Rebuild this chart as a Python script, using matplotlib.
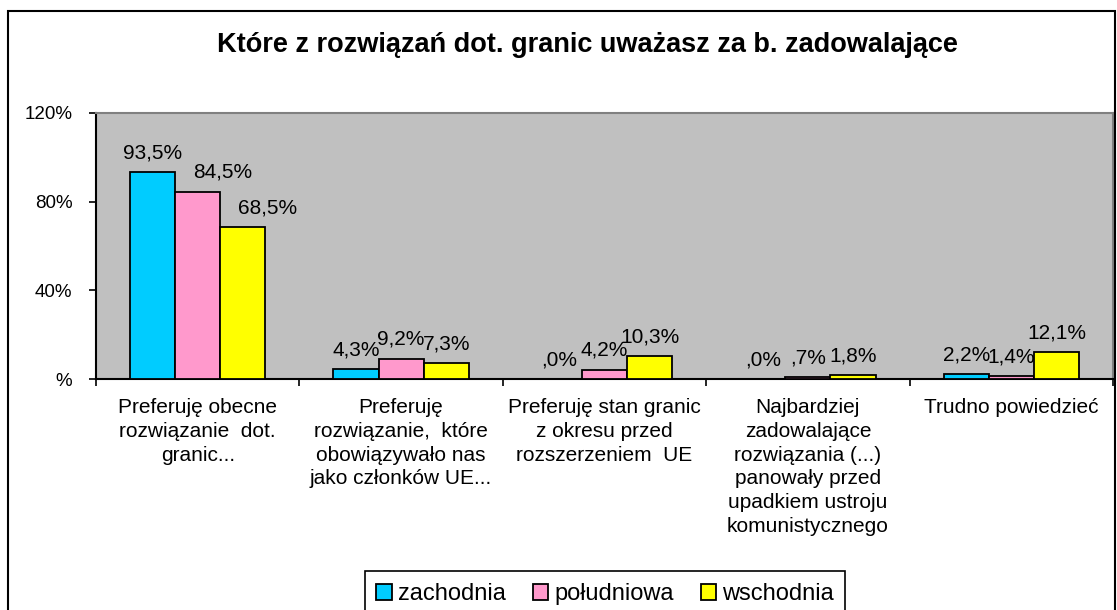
import numpy as np
import matplotlib
matplotlib.use("Agg")
import matplotlib.pyplot as plt
from matplotlib.patches import Rectangle

plt.rcParams['font.family'] = ['Liberation Sans', 'DejaVu Sans']

title = "Które z rozwiązań dot. granic uważasz za b. zadowalające"
categories = [
    "Preferuję obecne\nrozwiązanie  dot.\ngranic...",
    "Preferuję\nrozwiązanie,  które\nobowiązywało nas\njako członków UE...",
    "Preferuję stan granic\nz okresu przed\nrozszerzeniem  UE",
    "Najbardziej\nzadowalające\nrozwiązania (...)\npanowały przed\nupadkiem ustroju\nkomunistycznego",
    "Trudno powiedzieć",
]
series_names = ["zachodnia", "południowa", "wschodnia"]
zachodnia = [93.5, 4.3, 0.0, 0.0, 2.2]
poludniowa = [84.5, 9.2, 4.2, 0.7, 1.4]
wschodnia = [68.5, 7.3, 10.3, 1.8, 12.1]
yticks = [0, 40, 80, 120]
ytick_labels = ["%", "40%", "80%", "120%"]

colors = ["#00CCFF", "#FF99CC", "#FFFF00"]
# small manual shifts of a few value labels (first group), in bar-width units
label_shift = {(1, 0): 0.55, (2, 0): 0.55}


def fmt(v):
    # Excel style "#,0%" -> leading zero dropped
    s = f"{v:.1f}".replace(".", ",")
    if s.startswith("0"):
        s = s[1:]
    return s + "%"


W, H = 1117, 610
fig = plt.figure(figsize=(W / 100, H / 100), dpi=100)

# outer chart border
fig.patches.append(Rectangle((8 / W, -0.05), (1115 - 8) / W, 1.05 - 10.5 / H,
                             transform=fig.transFigure, fill=False,
                             edgecolor="black", linewidth=1.5))

ax = fig.add_axes([96 / W, (H - 379) / H, (1113 - 96) / W, (379 - 113) / H])
ax.set_facecolor("#C0C0C0")

x = np.arange(len(categories))
bw = 0.222
all_series = [zachodnia, poludniowa, wschodnia]
for i, (vals, name, col) in enumerate(zip(all_series, series_names, colors)):
    pos = x + (i - 1) * bw
    ax.bar(pos, vals, width=bw, color=col, edgecolor="black", linewidth=1.3,
           label=name, zorder=3)
    for j, v in enumerate(vals):
        dx = label_shift.get((i, j), 0) * bw
        ax.annotate(fmt(v), (pos[j] + dx, v), xytext=(0, 7),
                    textcoords="offset points", ha="center", va="bottom",
                    fontsize=15, zorder=4)

ax.set_xlim(-0.5, len(categories) - 0.5)
ax.set_ylim(0, 120)
ax.set_yticks(yticks)
ax.set_yticklabels(ytick_labels, fontsize=13.5)
ax.tick_params(axis="y", direction="out", length=5, width=1.2, pad=12)

ax.set_xticks(x)
ax.set_xticklabels(categories, fontsize=15, linespacing=1.31)
ax.set_xticks(np.arange(len(categories) + 1) - 0.5, minor=True)
ax.tick_params(axis="x", which="major", length=0, pad=14)
ax.tick_params(axis="x", which="minor", direction="out", length=5, width=1.2)

for side in ["top", "right"]:
    ax.spines[side].set_color("#808080")
    ax.spines[side].set_linewidth(1.5)
for side in ["left", "bottom"]:
    ax.spines[side].set_color("black")
    ax.spines[side].set_linewidth(1.5)

fig.text(587 / W, 1 - 45 / H, title, ha="center", va="center",
         fontsize=19.5, fontweight="bold")

leg = ax.legend(loc="center", bbox_to_anchor=(605 / W, 1 - 594 / H),
                bbox_transform=fig.transFigure, ncol=3, fontsize=17,
                frameon=True, fancybox=False, framealpha=1,
                edgecolor="black", handlelength=0.65, handleheight=0.65,
                handletextpad=0.25, columnspacing=1.15, borderpad=0.5)
leg.get_frame().set_linewidth(1.2)

fig.savefig("out.png", dpi=100)
